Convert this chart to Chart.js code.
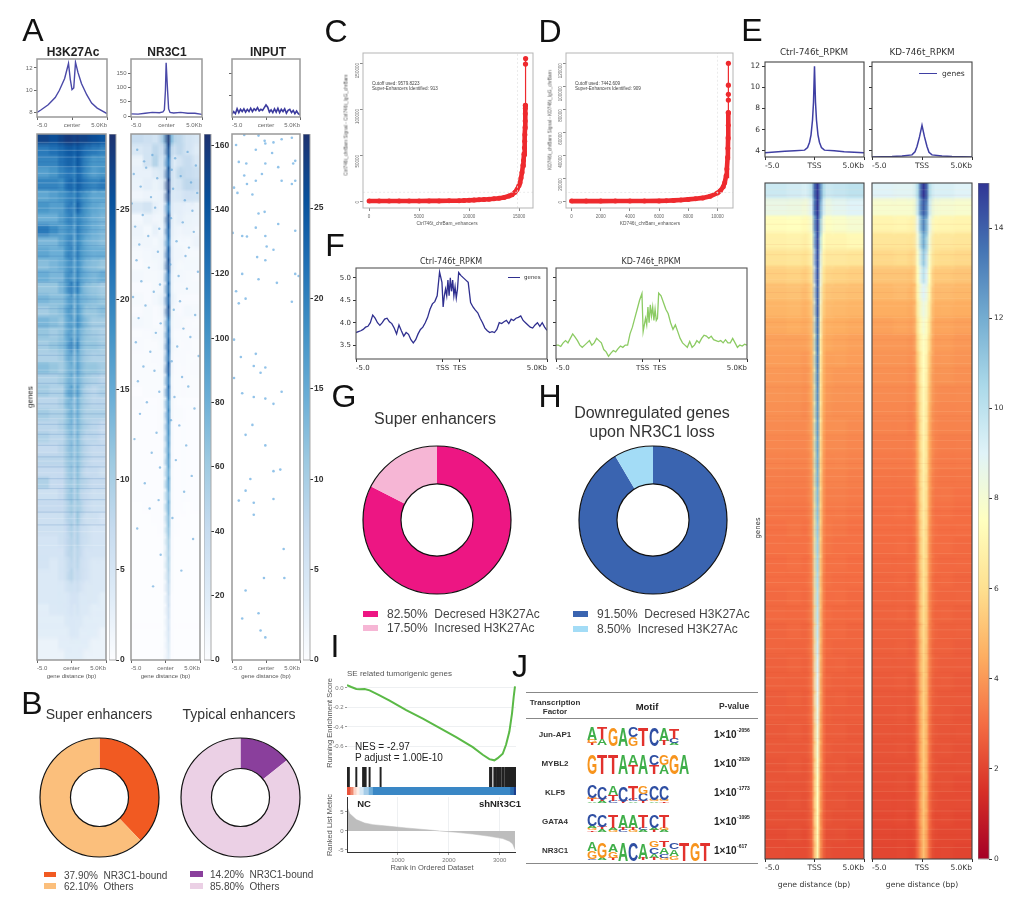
<!DOCTYPE html>
<html>
<head>
<meta charset="utf-8">
<title>NR3C1 super enhancers figure</title>
<script src="https://cdn.jsdelivr.net/npm/chart.js@4"></script>
<style>
html, body { margin: 0; padding: 0; background: #fff; }
#fig { position: relative; width: 1024px; height: 898px; overflow: hidden; filter: blur(0.4px); font-family: "Liberation Sans", Arial, sans-serif; }
#fig canvas { position: absolute; }
#fig span { position: absolute; white-space: pre; line-height: 1; }
#fig i { position: absolute; display: block; }
</style>
</head>
<body>
<div id="fig"></div>
<script>
// ---- data ----

// A: profiles above the heatmaps (kb from center)
const h3k27X = [-5,-4.4,-3.4,-2.4,-1.8,-1.05,-0.5,-0.25,0,0.25,0.5,0.85,1.35,2.1,2.8,3.6,5];
const h3k27Y = [8.0,8.25,8.7,9.35,10,11.05,12.4,11,10.05,10.2,12.5,11.6,10.6,9.6,8.85,8.4,7.9];
const nr3c1X = [-5,-4,-3,-2,-1,-0.5,-0.3,-0.15,-0.05,0.05,0.15,0.3,0.5,1,2,3,4,5];
const nr3c1Y = [8,7,10,13,12,15,22,90,186,186,90,25,13,11,13,10,10,6];
const inputX = [-5,-4.75,-4.5,-4.25,-4,-3.75,-3.5,-3.25,-3,-2.75,-2.5,-2.25,-2,-1.75,-1.5,-1.25,-1,-0.75,-0.5,-0.25,0,0.25,0.5,0.75,1,1.25,1.5,1.75,2,2.25,2.5,2.75,3,3.25,3.5,3.75,4,4.25,4.5,4.75,5];
const inputY = [0.25,0.5,0.3,0.75,0.4,0.7,0.5,0.75,0.45,0.7,0.5,0.8,0.5,0.75,0.6,0.85,0.55,0.7,0.6,0.85,1.1,0.9,0.45,0.65,0.4,0.75,0.45,0.8,0.4,0.7,0.5,0.75,0.35,0.6,0.7,0.4,0.6,0.3,0.55,0.3,0.2];

// heat column widths in kb, left to right
const heatAColumns = [1.5,1.3,0.9,0.6,0.45,0.5,0.45,0.6,0.9,1.3,1.5];
const heatEColumns = [2,1.5,0.7,0.4,0.2,0.4,0.2,0.4,0.7,1.5,2];

// A: H3K27Ac heat cells, top to bottom
const heatH3k27 = [
[26,25,26,27,27,26,27,26,26,25,24],[20,21,22,23,24,22,24,23,21,20,19],[19,19,21,22,23,20,24,22,19,17,17],[16,17,19,20,21,18,22,21,18,16,17],
[19,19,18,21,23,19,23,22,20,19,20],[15,16,17,18,20,17,21,19,17,15,15],[17,16,16,19,21,16,23,20,17,15,14],[14,14,16,18,20,15,19,18,16,14,13],
[20,18,16,17,19,14,20,18,16,14,13],[13,13,15,17,20,13,19,17,14,13,12],[15,14,14,18,20,14,20,17,15,14,14],[12,13,14,16,19,13,18,16,13,12,11],
[14,13,13,17,19,13,19,16,14,13,14],[11,11,13,16,21,14,20,15,12,11,10],[13,12,12,14,18,12,17,14,13,12,11],[10,11,12,15,18,11,17,14,11,11,12],
[13,12,11,14,17,12,18,15,12,10,10],[11,10,11,14,17,11,16,13,11,10,9],[10,11,12,14,20,12,19,13,11,11,10],[9,9,10,13,16,10,15,12,10,9,9],
[12,11,10,12,15,11,16,13,11,11,10],[9,9,10,12,15,10,14,12,10,9,8],[10,9,9,13,17,11,16,12,9,8,9],[8,8,9,12,14,9,14,11,9,8,8],
[10,9,9,11,15,10,14,11,9,9,9],[8,8,9,11,14,9,13,11,9,8,7],[9,8,8,10,13,9,13,10,8,8,7],[7,7,8,10,13,9,12,10,8,7,7],
[8,8,8,10,12,9,12,10,8,7,7],[7,7,7,9,12,8,12,9,7,7,6],[9,7,7,9,11,8,11,9,8,7,7],[6,6,7,9,12,8,11,8,7,6,6],
[7,7,7,8,11,8,10,9,7,6,6],[6,6,6,8,10,7,11,8,6,6,5],[6,6,6,7,10,7,9,7,6,5,5],[5,5,6,7,9,7,9,7,6,5,5],
[5,5,5,7,9,6,8,7,5,5,5],[5,4,5,6,8,6,8,6,5,4,4],[4,4,5,6,9,6,7,6,5,4,4],[4,4,4,5,6,5,6,5,4,4,4],
[4,4,4,4,5,5,5,4,4,4,3],[3,4,4,4,5,4,5,4,4,3,3],[3,3,3,4,4,4,4,4,3,3,3],[3,3,3,3,4,4,4,3,3,3,2],
[2,2,3,3,3,3,3,3,3,2,2],[2,2,2,3,3,3,3,3,2,2,2]];

// A: NR3C1 heat cells
const heatNr3c1 = [
[40,35,30,45,70,165,75,50,45,30,25],[25,30,45,35,40,150,45,35,45,30,20],[12,30,50,25,35,130,40,20,30,40,25],[14,14,20,22,30,150,35,25,45,40,35],
[12,16,12,16,25,160,35,25,30,45,40],[8,10,10,12,20,155,25,22,25,32,30],[25,30,14,10,16,120,22,16,16,14,12],[6,12,8,8,18,150,22,12,16,12,10],
[10,6,14,6,16,140,18,10,8,10,8],[8,8,6,10,14,125,16,8,6,6,10],[5,6,8,8,16,145,18,8,8,5,5],[3,5,6,8,18,150,18,8,5,6,6],
[6,5,5,6,14,130,14,6,6,5,3],[3,3,5,6,12,135,14,5,5,5,5],[5,3,6,10,16,140,16,8,3,3,3],[3,5,3,5,14,150,12,5,3,6,5],
[6,5,3,3,10,120,10,5,5,3,2],[2,3,5,5,10,130,10,3,3,2,3],[3,2,2,5,10,140,12,5,2,3,2],[2,2,3,3,8,130,8,3,3,2,2],
[2,2,2,3,10,145,10,3,2,2,3],[2,2,2,2,7,125,7,2,2,2,2],[1,2,2,2,8,130,8,2,2,2,2],[2,1,1,2,7,110,7,2,1,1,1],
[1,1,1,2,6,115,7,2,2,1,1],[1,1,1,2,6,110,6,1,1,1,1],[1,1,1,1,6,105,6,1,1,1,1],[1,1,1,1,5,100,5,1,1,1,1],
[1,1,1,1,5,100,5,1,1,1,1],[1,1,1,1,4,90,4,1,1,1,1],[1,1,1,1,4,95,4,1,1,1,1],[1,1,1,1,4,80,4,1,1,1,1],
[0,1,1,1,4,85,4,1,1,0,1],[0,0,1,1,3,75,3,1,0,0,0],[0,0,0,1,3,70,3,1,0,0,0],[0,0,0,0,3,60,3,0,0,0,0],
[0,0,0,0,3,55,3,0,0,0,0],[0,0,0,0,2,55,2,0,0,0,0],[0,0,0,0,2,50,2,0,0,0,0],[0,0,0,0,2,45,2,0,0,0,0],
[0,0,0,0,1,40,1,0,0,0,0],[0,0,0,0,1,35,1,0,0,0,0],[0,0,0,0,1,30,1,0,0,0,0],[0,0,0,0,1,28,1,0,0,0,0],
[0,0,0,0,1,25,1,0,0,0,0],[0,0,0,0,1,20,1,0,0,0,0]];

// A: fine row streaks, percent of the rows from the top
const streakLightA = [1.6,3.1,4.4,6.2,7.5,9.3,11,12.2,14.1,15.9,17.4,19,20.3,22.2,24.1,25.3,27.4,29,30.6,32.3,34.2,35.8,37.1,39.4,41,43.2,44.9,46.3,48.5,50.2,52.4,54.1,56.3,58,60.5,62.2,64.4,66.6,68.3,70.7,73.1,75.6,78.2];
const streakDarkA = [2.4,5.3,8.2,10.2,13,16.7,18.2,21.2,23.2,26.3,28.2,31.4,33.2,36.5,38.2,40.2,42.1,45.6,47.4,49.3,51.3,53.2,55.2,57.1,59.2,61.4,63.3,65.5,67.4,69.5,71.9,74.3];

// A: sparse dots, x in kb and y in percent of the rows from the top
const nr3c1DotX = [-4.1,3.2,-1.9,1.4,-3.1,4.4,-2.8,0.9,-4.6,2.2,-1.2,3.7,-3.6,1.1,4.6,-2.1,2.8,-4.9,-1.5,3.9,-3.3,0.8,2.5,-4.4,-0.9,4.1,-2.5,1.6,-3.8,3.4,-1.1,2.9,-4.2,0.7,-2.4,4.7,1.9,-3.5,-0.8,3.1,-1.7,-4.7,2.1,-2.9,1.2,4.3,-3.9,-0.7,2.6,-1.4,3.6,-4.3,1.7,-2.2,4.8,0.9,-3.2,-1.6,2.4,-4,3.3,-0.9,1.3,-2.7,4.2,-3.7,0.8,2,-1.3,-4.5,3,-2,1.5,-0.8,3.8,-3,2.7,-1,-2.3,1,-4.1,4,-0.7,2.3,-1.8];
const nr3c1DotY = [3,3.4,4,4.6,5.2,6,6.4,6.8,7.6,8,8.4,9.2,10,10.4,11.2,12,12.6,13.2,14,14.6,15.4,16,16.8,17.6,18,18.6,19.4,20.4,21,21.6,22.4,23.2,24,24.8,25.4,26.2,27,28,28.6,29.4,30,31,31.8,32.6,33.4,34.4,35,36,37,37.8,38.6,39.6,40.4,41.4,42.2,43.2,44.2,45,46.2,47,48,49,50,51,52.2,53.2,54.4,55.4,56.8,58,59.2,60.6,62,63.4,65,66.4,68,69.6,71.2,73,75,77,80,83,86];
const inputDotX = [-4.4,-3.2,-1.1,-0.2,-0.1,1.1,2.3,3.8,-4,-2.9,-1.5,0.9,4,4.3,-4.7,-4.2,-3.2,-2.8,-2,-1.5,-0.6,-0.1,1.8,2.3,3.8,4.3,-4.9,-3.5,-2.8,-1.5,-1.1,-0.2,-0.1,0.1,1.1,4.3,1.8,-0.1,-1.3,-3.5,-1.1,1.6,4.3,4.8,-4.4,-3,-4,3.8,-4.7,-1.5,-1.8,-3.7,-0.1,-0.8,-3.5,-1.8,-0.1,1.1,2.3,-4.7,-2,-3,-0.1,2.1,1.1,-2.3,-3,-4,-1.8,-1.8,1.1,-0.3,2.7,2.6,-3,-3.5,-0.8,-0.1,-1.1];
const inputDotY = [2.1,0.2,0.3,1.3,1.8,1.6,1,0.7,5.3,5.6,3,3.6,5.6,5.1,10.2,11.2,7.9,9.5,11.5,8.9,7.6,5.6,6.3,8.9,9.5,8.9,18.8,19.4,19.5,17.8,15.1,14.8,19.4,21.4,22,18.4,17.1,24,23.4,26.6,27.6,28.3,26.6,27,29.9,31.3,32.2,31.9,39.1,41.8,44.1,42.4,44.4,45.4,49.3,50,50.3,51.3,49,46.4,55.3,57.2,59.2,63.8,64.1,65.6,67.8,69.7,70.1,72.4,69.4,84.4,84.4,78.9,86.8,92.1,94.4,95.7,91.1];

const colorbarH3k27Ticks = [0,5,10,15,20,25];
const colorbarNr3c1Ticks = [0,20,40,60,80,100,120,140,160];
const colorbarInputTicks = [0,5,10,15,20,25];

// B, G, H: ring shares
const superNr3c1Shares = [37.9,62.1];
const typicalNr3c1Shares = [14.2,85.8];
const superH3k27Shares = [82.5,17.5];
const downH3k27Shares = [91.5,8.5];

// C, D: ranked enhancer curves, the dense part then the outliers at the top
const ctrlRankX = [0,1000,2000,3000,4000,5000,6000,7000,8000,9000,9500,10000,10500,11000,11500,12000,12500,13000,13500,14000,14300,14600,14800,15000,15100,15200,15300,15400,15450,15500,15540,15570,15590,15610,15620,15630,15635,15640];
const ctrlRankY = [0,0,0,50,50,80,100,150,220,300,500,800,1000,1300,1600,2000,2500,3000,3800,5500,6800,9500,12500,17000,20000,25000,31000,39000,44000,51000,58000,65000,72000,80000,87000,95000,101000,104000];
const ctrlTopX = [15640,15650,15660];
const ctrlTopY = [104000,149000,155000];
const kdRankX = [0,1000,2000,3000,4000,5000,6000,6500,7000,7500,8000,8500,9000,9500,10000,10200,10400,10500,10600,10650,10700,10720,10735,10745,10750];
const kdRankY = [0,0,0,50,80,120,200,300,600,1000,1500,2100,2800,4200,7000,9000,12500,16000,22000,28000,38000,46000,55000,66000,77000];
const kdTopX = [10750,10752,10753,10754,10755];
const kdTopY = [77000,88000,93000,101000,120000];

// E: profiles and heat cells
const tssX = [-5,-3,-2,-1,-0.7,-0.5,-0.35,-0.2,-0.1,0,0.1,0.2,0.35,0.5,0.7,1,2,3,5];
const ctrlTssY = [3.8,3.95,4.0,4.05,4.3,4.8,5.5,6.9,8.6,12,8.6,6.9,5.5,4.8,4.3,4.05,4.0,3.9,3.8];
const kdTssX = [-5,-3,-2,-1,-0.7,-0.5,-0.25,0,0.25,0.5,0.7,1,2,3,5];
const kdTssY = [3.4,3.45,3.5,3.6,3.9,4.4,5.3,6.4,5.3,4.4,3.85,3.6,3.5,3.45,3.4];

const heatCtrlE = [
[9.6,9.4,9.2,10,13,15,13.5,10.4,9.6,9.8,10],[8.5,8.4,8.2,9,12.5,15,12.5,9.4,8.5,8.8,9],[7.4,7.5,7.3,8,11.5,14.6,11.5,8.2,7.6,7.8,8],[6.8,6.9,6.7,7.4,10.5,14.5,10.5,7.5,7,7,7.2],
[6.2,6.3,6.1,6.8,9.5,14.3,9.5,6.9,6.4,6.4,6.3],[5.5,5.6,5.4,6.1,8.8,14.2,8.8,6.3,5.7,5.6,5.5],[5,5.1,4.9,5.6,8.4,14,8.4,5.7,5.2,5.1,5],[4.7,4.8,4.6,5.2,8,14,8,5.4,4.9,4.8,4.7],
[4.4,4.5,4.4,4.9,7.8,13.6,7.8,5,4.6,4.5,4.4],[4.2,4.2,4.2,4.7,7.5,13.4,7.5,4.8,4.4,4.3,4.2],[4.1,4.1,4,4.6,7.3,13.2,7.3,4.7,4.2,4.2,4.1],[4,4,3.9,4.5,7.1,13,7.1,4.6,4.1,4,4],
[3.9,3.9,3.8,4.4,7,12.8,7,4.5,4,3.9,3.9],[3.8,3.8,3.7,4.3,6.9,12.6,6.9,4.4,3.9,3.8,3.8],[3.7,3.7,3.7,4.2,6.8,12.4,6.8,4.3,3.8,3.8,3.7],[3.6,3.6,3.6,4.1,6.6,12.2,6.6,4.2,3.7,3.7,3.6],
[3.5,3.5,3.5,4,6.4,12,6.4,4.1,3.6,3.6,3.5],[3.4,3.4,3.4,3.9,6.3,11.8,6.3,4,3.5,3.5,3.4],[3.3,3.3,3.3,3.8,6.2,11.5,6.2,3.9,3.4,3.4,3.3],[3.2,3.2,3.2,3.7,6.1,11.3,6.1,3.8,3.3,3.3,3.2],
[3.1,3.2,3.1,3.7,6,11,6,3.7,3.3,3.2,3.1],[3.1,3.1,3.1,3.6,5.9,10.8,5.9,3.6,3.2,3.1,3.1],[3,3.1,3,3.5,5.8,10.6,5.8,3.6,3.1,3.1,3],[3,3,3,3.5,5.7,10.4,5.7,3.5,3.1,3,3],
[2.9,3,2.9,3.4,5.6,10.2,5.6,3.5,3,3,2.9],[2.9,2.9,2.9,3.4,5.5,10,5.5,3.4,3,2.9,2.9],[2.8,2.9,2.8,3.3,5.4,9.8,5.4,3.4,2.9,2.9,2.8],[2.8,2.8,2.8,3.3,5.3,9.5,5.3,3.3,2.9,2.8,2.8],
[2.7,2.8,2.7,3.2,5.2,9.2,5.2,3.3,2.8,2.8,2.7],[2.7,2.7,2.7,3.2,5.1,9,5.1,3.2,2.8,2.7,2.7],[2.6,2.7,2.6,3.1,5,8.8,5,3.2,2.7,2.7,2.6],[2.6,2.6,2.6,3.1,4.9,8.5,4.9,3.1,2.7,2.6,2.6],
[2.5,2.6,2.5,3,4.8,8.2,4.8,3.1,2.6,2.6,2.5],[2.5,2.5,2.5,3,4.7,8,4.7,3,2.6,2.5,2.5],[2.4,2.5,2.4,2.9,4.6,7.8,4.6,3,2.5,2.5,2.4],[2.4,2.4,2.4,2.9,4.5,7.6,4.5,2.9,2.5,2.4,2.4],
[2.3,2.4,2.3,2.9,4.5,7.5,4.5,2.9,2.4,2.4,2.3],[2.3,2.3,2.3,2.8,4.4,7.4,4.4,2.8,2.4,2.3,2.3],[2.2,2.3,2.2,2.8,4.3,7.2,4.3,2.8,2.3,2.3,2.2],[2.2,2.2,2.2,2.7,4.2,7,4.2,2.7,2.3,2.2,2.2]];

const heatKdE = [
[9,8.9,8.9,10.4,13.8,15,14,10.4,9.2,9.2,9],[7.9,7.9,7.9,9.8,13,14,13,9.6,8.1,8,7.9],[7,7.1,6.9,8.8,11.5,13,11.5,8.8,7.2,7.1,7],[6.3,6.3,6.2,8.2,10.5,12,10.5,8.2,6.4,6.4,6.3],
[5.8,5.9,5.7,7.8,9.5,11,9.5,7.8,6,5.9,5.8],[5.2,5.2,5.1,7.4,9,10,9,7.4,5.3,5.3,5.2],[4.8,4.9,4.7,7,8.4,9,8.4,7,4.9,4.9,4.8],[4.5,4.5,4.4,6.6,7.9,8.4,7.9,6.6,4.6,4.6,4.5],
[4.2,4.3,4.2,6.2,7.5,8,7.5,6.2,4.3,4.3,4.2],[4,4,3.9,5.8,7.2,7.6,7.2,5.8,4.1,4.1,4],[3.9,3.9,3.8,5.4,6.9,7.5,6.9,5.4,4,4,3.9],[3.8,3.8,3.7,5.2,6.8,7.4,6.8,5.2,3.9,3.9,3.8],
[3.7,3.7,3.6,5,6.6,7.2,6.6,5,3.8,3.7,3.7],[3.6,3.6,3.5,4.8,6.5,7.1,6.5,4.8,3.7,3.6,3.6],[3.5,3.5,3.4,4.6,6.4,7,6.4,4.6,3.6,3.5,3.5],[3.4,3.4,3.4,4.5,6.3,6.9,6.3,4.5,3.5,3.4,3.4],
[3.3,3.3,3.3,4.4,6.2,6.8,6.2,4.4,3.4,3.3,3.3],[3.2,3.2,3.2,4.3,6.1,6.7,6.1,4.3,3.3,3.2,3.2],[3.1,3.1,3.1,4.2,6,6.6,6,4.2,3.2,3.2,3.1],[3.05,3.1,3,4.1,5.9,6.5,5.9,4.1,3.1,3.1,3],
[3,3,3,4,5.8,6.4,5.8,4,3.1,3,3],[2.95,3,2.9,3.9,5.7,6.3,5.7,3.9,3,3,2.9],[2.9,2.9,2.9,3.9,5.6,6.2,5.6,3.9,3,2.9,2.9],[2.85,2.9,2.8,3.8,5.5,6.1,5.5,3.8,2.9,2.9,2.8],
[2.8,2.8,2.8,3.7,5.4,6,5.4,3.7,2.9,2.8,2.8],[2.75,2.8,2.7,3.7,5.3,5.9,5.3,3.7,2.8,2.8,2.7],[2.7,2.7,2.7,3.6,5.2,5.8,5.2,3.6,2.8,2.7,2.7],[2.65,2.7,2.6,3.5,5.1,5.7,5.1,3.5,2.7,2.7,2.6],
[2.6,2.6,2.6,3.5,5,5.6,5,3.5,2.7,2.6,2.6],[2.55,2.6,2.5,3.4,4.9,5.5,4.9,3.4,2.6,2.6,2.5],[2.5,2.5,2.5,3.3,4.8,5.5,4.8,3.3,2.6,2.5,2.5],[2.45,2.5,2.4,3.3,4.7,5.4,4.7,3.3,2.5,2.5,2.4],
[2.4,2.4,2.4,3.2,4.7,5.4,4.7,3.2,2.5,2.4,2.4],[2.35,2.4,2.3,3.2,4.6,5.3,4.6,3.2,2.4,2.4,2.3],[2.3,2.3,2.3,3.1,4.5,5.3,4.5,3.1,2.4,2.3,2.3],[2.25,2.3,2.2,3.1,4.5,5.2,4.5,3.1,2.3,2.3,2.2],
[2.2,2.2,2.2,3,4.4,5.2,4.4,3,2.3,2.2,2.2],[2.15,2.2,2.1,3,4.3,5.1,4.3,3,2.2,2.2,2.1],[2.1,2.1,2.1,2.9,4.2,5,4.2,2.9,2.2,2.1,2.1],[2.05,2.1,2,2.9,4.1,5,4.1,2.9,2.1,2.1,2]];

// E: fine row streaks, percent of the rows from the top
const streakLightE = [1,2.5,4.1,5.4,7.2,8.3,9.9,11.4,12.6,14.3,15.4,17.1,18.2,19.9,21.3,22.4,24.1,25.5,26.7,28.2,29.4,31.1,32.3,33.8,35.2,36.6,38.1,39.3,40.8,42.2,43.4,45.1,46.3,47.9,49.2,50.6,52.1,53.3,54.8,56.3,57.6,59.1,60.4,61.8,63.3,64.5,66.1,67.4,68.9,70.3,71.6,73.2,74.4,76,77.3,78.7,80.1,81.5,83,84.2,85.9,87.1,88.6,90,91.3,92.9,94.2,95.6,97.1,98.3];
const streakDarkE = [1.8,3.3,6.1,9.1,10.6,13.4,16.2,20.6,23.2,27.4,30.2,34.5,37.3,41.5,44.2,48.5,51.3,55.6,58.3,62.6,65.3,69.6,72.4,75.2,79.4,82.2,86.5,89.3,93.6,96.4];

const colorbarETicks = [0,2,4,6,8,10,12,14];

// F: TSS to TES profiles
const geneBodyX = [0,1,2,3,4,5,6,7,8,9,10,11,12,13,14,15,16,17,18,19,20,21,22,23,24,25,26,27,28,29,30,31,32,33,34,35,36,36.5,37,37.5,38,38.5,39,39.5,40,40.5,41,41.5,42,42.5,43,44,45,46,47,48,49,50,51,52,53,54,55,56,57,58,59,60,61,62,63,64,65,66,67,68,69,70,71,72,73,74,75,76,77,78,79,80];
const ctrlBodyY = [3.78,3.8,3.82,3.85,3.9,3.92,4.0,4.17,4.1,4.0,3.94,4.0,4.08,4.1,4.02,3.98,3.88,3.75,3.95,3.82,3.7,3.78,3.74,3.62,3.55,3.62,3.75,3.85,3.9,4.0,4.12,4.3,4.42,4.47,4.6,5.13,4.9,4.35,4.6,4.75,4.6,4.95,4.6,5.0,4.7,4.95,4.6,4.8,4.55,4.75,5.12,5.05,5.0,4.95,4.9,4.45,4.35,4.28,4.22,4.1,4.0,3.88,3.82,3.78,3.8,3.78,3.85,4.0,3.98,4.02,4.05,3.98,4.08,4.05,4.1,4.12,4.15,4.05,4.0,3.95,3.9,3.88,3.95,4.0,3.92,4.0,3.9,3.83];
const kdBodyY = [3.5,3.5,3.47,3.55,3.6,3.55,3.65,3.75,3.68,3.6,3.5,3.45,3.5,3.55,3.6,3.5,3.55,3.65,3.6,3.55,3.4,3.35,3.25,3.32,3.38,3.35,3.42,3.48,3.45,3.5,3.5,3.75,3.9,4.1,4.3,4.5,4.65,3.8,3.95,4.1,3.95,4.35,4.0,4.4,4.15,4.35,4.05,4.3,4.05,4.1,4.66,4.6,4.45,4.3,4.2,4.0,3.85,3.95,3.8,3.65,3.55,3.5,3.45,3.58,3.45,3.5,3.6,3.55,3.65,3.72,3.7,3.65,3.7,3.62,3.6,3.58,3.6,3.55,3.62,3.55,3.55,3.65,3.55,3.45,3.5,3.48,3.52,3.5];

// I: GSEA running score, hits and ranked metric
const esRankX = [0,85,183,248,346,444,640,837,1163,1490,1817,2144,2471,2667,2797,2895,2961,3059,3124,3190,3242,3275,3300];
const esScoreY = [0.03,0.01,-0.01,-0.014,-0.01,-0.024,-0.075,-0.13,-0.227,-0.315,-0.41,-0.505,-0.607,-0.685,-0.73,-0.742,-0.72,-0.675,-0.583,-0.447,-0.26,-0.09,0.017];
const hitRanks = [5,15,25,35,183,316,340,366,444,660,2810,2835,2895,2925,2955,2985,3010,3050,3080,3120,3140,3155,3170,3190,3205,3220,3240,3255,3270,3285,3300,3310];
const stripWidths = [60,60,60,60,80,100,80,2700,70,50];
const stripColors = ['#e8523a','#f08a70','#fbd5c8','#fdf0ea','#d6e8f5','#a5cce8','#6fadd9','#3a87c5','#2a6cb0','#1c3f8c'];
const metricX = [0,52,183,346,509,837,1163,1686,1817,2144,2471,2797,3059,3190,3255,3300];
const metricY = [6.5,4.6,3,2.1,1.67,1.23,0.8,0.18,0,-0.35,-0.8,-1.4,-2,-2.7,-3.4,-4.9];

// J: motif table
const motifFactors = ['Jun-AP1','MYBL2','KLF5','GATA4','NR3C1'];
const motifExponents = ['-2056','-2029','-1773','-1095','-617'];
const junLogo = [[['A',.65],['G',.2],['T',.1]],[['T',.6],['A',.35]],[['G',.95]],[['A',.95]],[['C',.5],['G',.45]],[['T',.95]],[['C',.95]],[['A',.7],['T',.25]],[['T',.55],['C',.25],['A',.1]]];
const mybLogo = [[['G',1]],[['T',1]],[['T',1]],[['A',1]],[['A',.55],['T',.45]],[['A',1]],[['C',.55],['T',.45]],[['G',.55],['A',.45]],[['G',1]],[['A',1]]];
const klfLogo = [[['C',.68],['G',.12],['T',.1],['A',.08]],[['C',.7],['T',.12],['A',.1]],[['A',.45],['T',.35],['C',.1]],[['C',.78],['T',.1]],[['T',.75],['C',.1],['A',.08]],[['G',.4],['C',.38],['T',.1]],[['C',.75],['G',.1],['A',.08]],[['C',.75],['G',.1],['T',.08]]];
const gataLogo = [[['C',.62],['A',.14],['G',.14],['T',.08]],[['C',.62],['T',.14],['A',.14]],[['T',.66],['A',.14],['G',.12]],[['A',.66],['T',.14],['C',.12]],[['A',.66],['T',.14],['G',.12]],[['T',.66],['C',.14],['A',.12]],[['C',.66],['A',.14],['T',.12]],[['T',.66],['G',.14],['A',.12]]];
const nrLogo = [[['A',.45],['G',.4],['C',.08]],[['G',.78],['A',.15]],[['A',.4],['G',.35],['T',.12]],[['A',.95]],[['C',.95]],[['A',.8],['T',.12]],[['G',.3],['C',.33],['A',.22],['T',.1]],[['T',.3],['A',.35],['C',.2],['G',.1]],[['C',.35],['A',.35],['G',.2]],[['T',.95]],[['G',.95]],[['T',.95]]];

// ---- helpers ----
const fig = document.getElementById('fig');
const SANS = '"Liberation Sans", Arial, sans-serif';
const DEJA = '"DejaVu Sans", sans-serif';
const BLUES = ['#fcfdff','#deebf7','#c6dbef','#9ecae1','#6baed6','#4292c6','#2171b5','#08519c','#1d3270'];
const RDYLBU = ['#a50026','#d73027','#f46d43','#fdae61','#fee090','#ffffbf','#e0f3f8','#abd9e9','#74add1','#4575b4','#313695'];
const LETTER_COLORS = { A: '#3fae49', T: '#e2322d', G: '#f7941d', C: '#2f4fa3' };
const LETTER_ADV = { A: .722, T: .611, G: .778, C: .722 };

Chart.defaults.animation = false;
Chart.defaults.responsive = false;
Chart.defaults.maintainAspectRatio = false;
Chart.defaults.font.family = SANS;
Chart.defaults.plugins.legend.display = false;
Chart.defaults.plugins.tooltip.enabled = false;

function txt(s, x, y, o = {}) {
    const el = document.createElement('span');
    el.textContent = s;
    const a = o.anchor || 'c';
    const tx = a === 'c' ? '-50%' : a === 'r' ? '-100%' : '0';
    el.style.cssText = `left:${x}px;top:${y}px;font:${o.weight || 'normal'} ${o.size || 10}px ${o.font || SANS};color:${o.color || '#333'};transform:translate(${tx},-50%)${o.rot ? ` rotate(${o.rot}deg)` : ''};`;
    fig.appendChild(el);
    return el;
}

function swatch(x, y, w, h, color) {
    const el = document.createElement('i');
    el.style.cssText = `left:${x}px;top:${y}px;width:${w}px;height:${h}px;background:${color};`;
    fig.appendChild(el);
}

// canvas with room round the plot box, m = margins
function makeCanvas(box, m) {
    const c = document.createElement('canvas');
    const w = box[2] - box[0] + m.l + m.r, h = box[3] - box[1] + m.t + m.b;
    c.width = w; c.height = h;
    c.style.cssText = `left:${box[0] - m.l}px;top:${box[1] - m.t}px;width:${w}px;height:${h}px;`;
    fig.appendChild(c);
    return c;
}

function frame(color, width) {
    return {
        id: 'frame',
        afterDraw(ch) {
            if (!width) return;
            const a = ch.chartArea, g = ch.ctx;
            g.save();
            g.strokeStyle = color; g.lineWidth = width;
            g.strokeRect(a.left, a.top, a.right - a.left, a.bottom - a.top);
            g.restore();
        }
    };
}

// size sets the room for the axis, the padding is zeroed so the plot box stays exact
function axis(range, ticks, labels, o, size) {
    return {
        type: 'linear', min: range[0], max: range[1],
        afterBuildTicks: s => { s.ticks = ticks.map(v => ({ value: v })); },
        ticks: {
            autoSkip: false, maxRotation: 0, padding: o.pad === undefined ? 1.5 : o.pad, align: o.align || 'center',
            font: { size: o.size, family: o.font || SANS, weight: o.weight || 'normal' }, color: o.color || '#333',
            callback: v => labels ? labels[ticks.indexOf(v)] : String(v)
        },
        grid: { drawOnChartArea: !!o.grid, color: o.grid || 'transparent', tickLength: o.tick === undefined ? 3 : o.tick, tickColor: o.tickColor || '#555' },
        border: { display: false },
        afterFit: s => {
            size(s);
            s.paddingTop = s.paddingBottom = s.paddingLeft = s.paddingRight = 0;
        }
    };
}

// generic xy panel: every option is a style, the data comes in as arrays
function xyPanel(box, m, series, xr, xt, xl, yr, yt, yl, o) {
    const scales = {
        x: xt ? axis(xr, xt, xl, o.x, s => { s.height = m.b; }) : { type: 'linear', min: xr[0], max: xr[1], display: false },
        y: yt ? axis(yr, yt, yl, o.y, s => { s.width = m.l; }) : { type: 'linear', min: yr[0], max: yr[1], display: false, reverse: !!o.yReverse }
    };
    if (o.y && o.y.rotate) { scales.y.ticks.minRotation = 90; scales.y.ticks.maxRotation = 90; }
    return new Chart(makeCanvas(box, m), {
        type: 'scatter',
        data: { datasets: series },
        options: {
            layout: { autoPadding: false, padding: { top: m.t, right: m.r, left: yt ? 0 : m.l, bottom: xt ? 0 : m.b } },
            scales
        },
        plugins: [frame(o.frame || '#999', o.frameWidth === undefined ? 1.5 : o.frameWidth)]
    });
}

const zip = (xs, ys) => xs.map((x, i) => ({ x, y: ys[i] }));
const lineSeries = (xs, ys, color, width) => ({ data: zip(xs, ys), showLine: true, borderColor: color, borderWidth: width, pointRadius: 0, tension: 0 });
const dotSeries = (xs, ys, color, rad) => ({ data: zip(xs, ys), showLine: false, pointRadius: rad, pointBackgroundColor: color, pointBorderWidth: 0 });
// thin full width lines across a heatmap at the given row positions
const streakSeries = (rows, color, width) => ({
    data: rows.flatMap(r => [{ x: -5, y: r }, { x: 5, y: r }, { x: null, y: null }]),
    showLine: true, spanGaps: false, borderColor: color, borderWidth: width, pointRadius: 0
});

function ramp(stops, t) {
    t = Math.min(1, Math.max(0, t)) * (stops.length - 1);
    const i = Math.min(stops.length - 2, Math.floor(t)), f = t - i;
    const rgb = h => [1, 3, 5].map(k => parseInt(h.substr(k, 2), 16));
    const a = rgb(stops[i]), b = rgb(stops[i + 1]);
    return `rgb(${a.map((v, k) => Math.round(v + (b[k] - v) * f)).join(',')})`;
}

// heat cells are stacked horizontal bars, the low pixel ratio smooths them when scaled up
function heatCells(box, rows, columns, stops, max) {
    new Chart(makeCanvas(box, { l: 0, r: 0, t: 0, b: 0 }), {
        type: 'bar',
        data: {
            labels: rows.map((r, i) => i),
            datasets: columns.map((w, c) => ({
                data: rows.map(() => w),
                backgroundColor: rows.map(r => ramp(stops, r[c] / max)),
                borderWidth: 0, barPercentage: 1, categoryPercentage: 1, stack: 'a', inflateAmount: 1.5
            }))
        },
        options: {
            indexAxis: 'y', devicePixelRatio: 0.34,
            layout: { autoPadding: false, padding: 0 },
            scales: { x: { stacked: true, min: 0, max: 10, display: false }, y: { stacked: true, display: false } }
        }
    });
}

function colorbar(box, m, max, ticks, stops, o) {
    new Chart(makeCanvas(box, m), {
        type: 'bar',
        data: {
            labels: [''],
            datasets: [{
                data: [max], borderWidth: 0, barPercentage: 1, categoryPercentage: 1,
                backgroundColor: ctx => {
                    const a = ctx.chart.chartArea;
                    if (!a) return stops[0];
                    const g = ctx.chart.ctx.createLinearGradient(0, a.bottom, 0, a.top);
                    stops.forEach((s, i) => g.addColorStop(i / (stops.length - 1), s));
                    return g;
                }
            }]
        },
        options: {
            layout: { autoPadding: false, padding: { top: m.t, bottom: m.b, left: m.l } },
            scales: {
                x: { display: false },
                y: Object.assign(axis([0, max], ticks, null, o, s => { s.width = m.r; }), { position: 'right' })
            }
        },
        plugins: [frame(o.frame, o.frameWidth)]
    });
}

function ring(cx, cy, R, r, values, colors) {
    const box = [cx - R - 2, cy - R - 2, cx + R + 2, cy + R + 2];
    new Chart(makeCanvas(box, { l: 0, r: 0, t: 0, b: 0 }), {
        type: 'doughnut',
        data: { datasets: [{ data: values, backgroundColor: colors, borderWidth: 0 }] },
        options: { radius: R, cutout: r, layout: { padding: 0 } },
        plugins: [{
            id: 'ringEdge',
            afterDraw(ch) {
                const el = ch.getDatasetMeta(0).data[0], g = ch.ctx;
                g.save();
                g.strokeStyle = '#111'; g.lineWidth = 1.2;
                [el.outerRadius, el.innerRadius].forEach(rad => { g.beginPath(); g.arc(el.x, el.y, rad, 0, Math.PI * 2); g.stroke(); });
                g.restore();
            }
        }]
    });
}

function legendRow(sx, y, sw, sh, color, tx, label, size) {
    swatch(sx, y - sh / 2, sw, sh, color);
    txt(label, tx, y, { anchor: 'l', size, color: '#444' });
}

// ---- panel letters ----
[['A', 33, 30], ['B', 32, 703], ['C', 336, 31], ['D', 550, 31], ['E', 752, 30], ['F', 335, 245], ['G', 344, 396], ['H', 550, 396], ['I', 335, 646], ['J', 520, 666]]
    .forEach(l => txt(l[0], l[1], l[2], { size: 32, color: '#111' }));

// ---- A ----
const aX = { size: 6, color: '#666', tickColor: '#666', align: 'inner' };
const aColumnsX = [[37, 106], [131, 200], [232, 300]];
const aMargins = { l: 18, r: 3, t: 2, b: 14 };
const centerTicks = [-5, 0, 5], centerLabels = ['-5.0', 'center', '5.0Kb'];
['H3K27Ac', 'NR3C1', 'INPUT'].forEach((t, i) => txt(t, [73, 167, 268][i], 52, { size: 12, weight: 'bold', color: '#222' }));

xyPanel([37, 59, 107, 117], aMargins, [lineSeries(h3k27X, h3k27Y, '#4a49a8', 1.4)], [-5, 5], centerTicks, centerLabels, [7.6, 12.8], [8, 10, 12], null, { x: aX, y: aX });
xyPanel([131, 59, 202, 117], aMargins, [lineSeries(nr3c1X, nr3c1Y, '#4a49a8', 1.4)], [-5, 5], centerTicks, centerLabels, [-3, 199], [0, 50, 100, 150], null, { x: aX, y: aX });
xyPanel([232, 59, 300, 117], aMargins, [lineSeries(inputX, inputY, '#3b3a9e', 1.6)], [-5, 5], centerTicks, centerLabels, [0, 5.3], [2, 4], ['', ''], { x: aX, y: aX });

heatCells([37, 134, 106, 660], heatH3k27, heatAColumns, BLUES, 28);
heatCells([131, 134, 200, 660], heatNr3c1, heatAColumns, BLUES, 165);
const heatFrameA = { x: aX, y: null, yReverse: true };
const aFrameM = { l: 4, r: 4, t: 2, b: 14 };
xyPanel([37, 134, 106, 660], aFrameM, [streakSeries(streakLightA, 'rgba(255,255,255,.18)', 1.2), streakSeries(streakDarkA, 'rgba(25,95,170,.15)', 1.2)], [-5, 5], centerTicks, centerLabels, [0, 100], null, null, heatFrameA);
xyPanel([131, 134, 200, 660], aFrameM, [dotSeries(nr3c1DotX, nr3c1DotY, 'rgba(88,160,215,.6)', 1.2)], [-5, 5], centerTicks, centerLabels, [0, 100], null, null, heatFrameA);
xyPanel([232, 134, 300, 660], aFrameM, [dotSeries(inputDotX, inputDotY, 'rgba(110,175,225,.75)', 1.3)], [-5, 5], centerTicks, centerLabels, [0, 100], null, null, heatFrameA);
aColumnsX.forEach(c => txt('gene distance (bp)', (c[0] + c[1]) / 2, 676, { size: 6, color: '#555' }));
txt('genes', 30, 397, { size: 8, rot: -90, color: '#222' });

const cbA = { size: 8.5, color: '#333', weight: 'bold', tickColor: '#333', frame: '#aaa', frameWidth: 1, tick: 3, pad: 1 };
const cbM = { l: 0, r: 24, t: 0, b: 2 };
colorbar([109, 134, 116, 660], cbM, 29.2, colorbarH3k27Ticks, BLUES, cbA);
colorbar([204, 134, 211, 660], cbM, 163.5, colorbarNr3c1Ticks, BLUES, cbA);
colorbar([303, 134, 310, 660], cbM, 29.1, colorbarInputTicks, BLUES, cbA);

// ---- B ----
txt('Super enhancers', 99, 714, { size: 14, color: '#333' });
txt('Typical enhancers', 239, 714, { size: 14, color: '#333' });
ring(99.5, 797.5, 59.5, 30, superNr3c1Shares, ['#f15a22', '#fbbf7c']);
ring(240.5, 797.5, 59.5, 30, typicalNr3c1Shares, ['#8a3f9c', '#ebd0e5']);
legendRow(44, 874.5, 12, 5.5, '#f15a22', 64, superNr3c1Shares[0].toFixed(2) + '%  NR3C1-bound', 10);
legendRow(44, 886, 12, 5.5, '#fbbf7c', 64, superNr3c1Shares[1].toFixed(2) + '%  Others', 10);
legendRow(190, 874, 13, 5.5, '#8a3f9c', 210, typicalNr3c1Shares[0].toFixed(2) + '%  NR3C1-bound', 10);
legendRow(190, 886, 13, 5.5, '#ebd0e5', 210, typicalNr3c1Shares[1].toFixed(2) + '%  Others', 10);

// ---- C, D ----
const rankTick = { size: 4.5, color: '#666', tickColor: '#888', pad: 3 };
const rankY = { ...rankTick, rotate: true, pad: 2 };
const rankM = { l: 22, r: 3, t: 3, b: 18 };
const RED = '#ee2a2e';
const rankDense = (xs, ys) => ({ data: zip(xs, ys), showLine: true, borderColor: RED, borderWidth: 4.6, pointRadius: 2.5, pointBackgroundColor: RED, pointBorderWidth: 0, tension: 0 });
const rankTop = (xs, ys) => ({ data: zip(xs, ys), showLine: true, borderColor: RED, borderWidth: 1.2, pointRadius: 2.6, pointBackgroundColor: RED, pointBorderWidth: 0, tension: 0 });
const faintLine = (xs, ys) => ({ data: zip(xs, ys), showLine: true, borderColor: '#e2e2e2', borderWidth: 0.7, borderDash: [2, 2], pointRadius: 0 });
xyPanel([363, 53, 533, 208], rankM, [faintLine([14850, 14850], [-7500, 170000]), faintLine([-600, 16500], [9580, 9580]), rankTop(ctrlTopX, ctrlTopY), rankDense(ctrlRankX, ctrlRankY)],
    [-610, 16400], [0, 5000, 10000, 15000], null, [-7600, 161000], [0, 50000, 100000, 150000], null, { x: rankTick, y: rankY, frame: '#b5b5b5', frameWidth: 1 });
xyPanel([566, 53, 733, 208], rankM, [faintLine([10000, 10000], [-7500, 130000]), faintLine([-500, 11500], [7442, 7442]), rankTop(kdTopX, kdTopY), rankDense(kdRankX, kdRankY)],
    [-380, 11070], [0, 2000, 4000, 6000, 8000, 10000], null, [-6000, 129000], [0, 20000, 40000, 60000, 80000, 100000, 120000], null, { x: rankTick, y: rankY, frame: '#b5b5b5', frameWidth: 1 });
txt('Cutoff used: 9579.8223', 372, 83, { size: 4.6, anchor: 'l', color: '#444' });
txt('Super-Enhancers Identified: 913', 372, 88, { size: 4.6, anchor: 'l', color: '#444' });
txt('Cutoff used: 7442.609', 575, 83, { size: 4.6, anchor: 'l', color: '#444' });
txt('Super-Enhancers Identified: 909', 575, 88, { size: 4.6, anchor: 'l', color: '#444' });
txt('Ctrl746t_chrBam_enhancers', 447, 223, { size: 4.8, color: '#555' });
txt('KD746t_chrBam_enhancers', 650, 223, { size: 4.8, color: '#555' });
txt('Ctrl746t_chrBam Signal - Ctrl746t_IgG_chrBam', 346, 125, { size: 4.8, rot: -90, color: '#555' });
txt('KD746t_chrBam Signal - KD746t_IgG_chrBam', 550, 120, { size: 4.8, rot: -90, color: '#555' });

// ---- F ----
const fTick = { size: 7, font: DEJA, color: '#333', tickColor: '#333', pad: 2, align: 'inner' };
const bodyTicks = [0, 36.3, 43.4, 80], bodyLabels = ['-5.0', 'TSS', 'TES', '5.0Kb'];
const fM = { l: 24, r: 3, t: 1, b: 16 };
const fStyle = { x: fTick, y: fTick, frame: '#555', frameWidth: 1.1 };
xyPanel([356, 268, 547, 359], fM, [lineSeries(geneBodyX, ctrlBodyY, '#2f2f8f', 1.3)], [0, 80], bodyTicks, bodyLabels, [3.19, 5.22], [3.5, 4, 4.5, 5], ['3.5', '4.0', '4.5', '5.0'], fStyle);
xyPanel([556, 268, 747, 359], fM, [lineSeries(geneBodyX, kdBodyY, '#8ccb63', 1.3)], [0, 80], bodyTicks, bodyLabels, [3.19, 5.22], [3.5, 4, 4.5, 5], ['', '', '', ''], fStyle);
txt('Ctrl-746t_RPKM', 451, 261, { size: 8, font: DEJA });
txt('KD-746t_RPKM', 651, 261, { size: 8, font: DEJA });
swatch(508, 276.5, 12, 1.3, '#2f2f8f');
txt('genes', 524, 277, { size: 5.5, font: DEJA, anchor: 'l' });

// ---- E ----
const eTick = { size: 7.5, font: DEJA, color: '#333', tickColor: '#333', pad: 2, align: 'inner' };
const eM = { l: 24, r: 3, t: 1, b: 18 };
const eStyle = { x: eTick, y: eTick, frame: '#444', frameWidth: 1.1 };
const tssTicks = [-5, 0, 5], tssLabels = ['-5.0', 'TSS', '5.0Kb'];
xyPanel([765, 62, 864, 157], eM, [lineSeries(tssX, ctrlTssY, '#3f3fa3', 1.5)], [-5, 5], tssTicks, tssLabels, [3.4, 12.4], [4, 6, 8, 10, 12], null, eStyle);
xyPanel([872, 62, 972, 157], { ...eM, l: 5 }, [lineSeries(kdTssX, kdTssY, '#3f3fa3', 1.5)], [-5, 5], tssTicks, tssLabels, [3.4, 12.4], [4, 6, 8, 10, 12], ['', '', '', '', ''], { ...eStyle, y: { ...eTick, pad: 0 } });
txt('Ctrl-746t_RPKM', 814, 52, { size: 8.8, font: DEJA });
txt('KD-746t_RPKM', 922, 52, { size: 8.8, font: DEJA });
swatch(919, 72.5, 18, 1.3, '#3f3fa3');
txt('genes', 942, 73, { size: 7.5, font: DEJA, anchor: 'l' });

heatCells([765, 183, 864, 859], heatCtrlE, heatEColumns, RDYLBU, 15);
heatCells([872, 183, 972, 859], heatKdE, heatEColumns, RDYLBU, 15);
const eFrameM = { l: 4, r: 8, t: 2, b: 18 };
const eHeatFrame = { x: eTick, y: null, yReverse: true, frame: '#444', frameWidth: 1.1 };
const eStreaks = [streakSeries(streakLightE, 'rgba(255,235,190,.13)', 1), streakSeries(streakDarkE, 'rgba(200,50,30,.06)', 1)];
xyPanel([765, 183, 864, 859], eFrameM, eStreaks, [-5, 5], tssTicks, tssLabels, [0, 100], null, null, eHeatFrame);
xyPanel([872, 183, 972, 859], eFrameM, eStreaks, [-5, 5], tssTicks, tssLabels, [0, 100], null, null, eHeatFrame);
txt('gene distance (bp)', 814, 884, { size: 7.7, font: DEJA });
txt('gene distance (bp)', 922, 884, { size: 7.7, font: DEJA });
txt('genes', 758, 528, { size: 7, font: DEJA, rot: -90 });
colorbar([978, 183, 989, 859], { l: 0, r: 30, t: 0, b: 2 }, 15, colorbarETicks, RDYLBU, { size: 7.5, font: DEJA, color: '#333', tickColor: '#333', frame: '#888', frameWidth: 0.8, tick: 3, pad: 2 });

// ---- G, H ----
txt('Super enhancers', 435, 419, { size: 16, color: '#333' });
txt('Downregulated genes', 652, 413, { size: 16, color: '#333' });
txt('upon NR3C1 loss', 652, 432, { size: 16, color: '#333' });
ring(436.5, 520, 74, 37, superH3k27Shares, ['#ed1683', '#f6b6d5']);
ring(652.5, 520, 74, 37, downH3k27Shares, ['#3a64b0', '#a3dcf6']);
legendRow(363, 614, 15, 6, '#ed1683', 387, superH3k27Shares[0].toFixed(2) + '%  Decresed H3K27Ac', 12);
legendRow(363, 628, 15, 6, '#f6b6d5', 387, superH3k27Shares[1].toFixed(2) + '%  Incresed H3K27Ac', 12);
legendRow(573, 614, 15, 6, '#3a64b0', 597, downH3k27Shares[0].toFixed(2) + '%  Decresed H3K27Ac', 12);
legendRow(573, 629, 15, 6, '#a3dcf6', 597, downH3k27Shares[1].toFixed(2) + '%  Incresed H3K27Ac', 12);

// ---- I ----
const rankRange = [0, 3320];
const gridTicks = [1000, 2000, 3000];
const iTick = { size: 6, color: '#777', tick: 2, tickColor: '#999', grid: '#eef0f2' };
txt('SE related tumorigenic genes', 347, 673, { size: 8, anchor: 'l', color: '#555' });
xyPanel([347, 682, 516, 765], { l: 14, r: 2, t: 1, b: 1 }, [lineSeries(esRankX, esScoreY, '#5ab946', 2)], rankRange, null, null, [-0.79, 0.0615], [0, -0.2, -0.4, -0.6], ['0.0', '-0.2', '-0.4', '-0.6'], { y: iTick, frameWidth: 0 });
txt('NES = -2.97', 355, 746, { size: 10, anchor: 'l', color: '#222' });
txt('P adjust = 1.00E-10', 355, 757, { size: 10, anchor: 'l', color: '#222' });

new Chart(makeCanvas([347, 767, 516, 787], { l: 0, r: 0, t: 0, b: 0 }), {
    type: 'bar',
    data: { datasets: [{ data: hitRanks.map(r => ({ x: r, y: 1 })), backgroundColor: '#222', barThickness: 1.3 }] },
    options: { layout: { autoPadding: false, padding: 0 }, scales: { x: { type: 'linear', offset: false, min: rankRange[0], max: rankRange[1], display: false }, y: { min: 0, max: 1, display: false } } }
});
new Chart(makeCanvas([347, 787, 516, 795], { l: 0, r: 0, t: 0, b: 0 }), {
    type: 'bar',
    data: { labels: [''], datasets: stripWidths.map((w, i) => ({ data: [w], backgroundColor: stripColors[i], borderWidth: 0, barPercentage: 1, categoryPercentage: 1 })) },
    options: { indexAxis: 'y', layout: { autoPadding: false, padding: 0 }, scales: { x: { stacked: true, min: 0, max: 3320, display: false }, y: { stacked: true, display: false } } }
});
txt('NC', 364, 803, { size: 9.5, weight: 'bold', color: '#222' });
txt('shNR3C1', 500, 803, { size: 9.5, weight: 'bold', color: '#222' });

const metricArea = { ...lineSeries(metricX, metricY, '#bdbdbd', 0.5), fill: 'origin', backgroundColor: '#bdbdbd' };
xyPanel([347, 797, 516, 853], { l: 14, r: 2, t: 1, b: 9 }, [metricArea], rankRange, gridTicks, ['1000', '2000', '3000'], [-5.8, 8.95], [-5, 0, 5], null,
    { x: iTick, y: { ...iTick, grid: undefined }, frameWidth: 0 });
const metricBorder = document.createElement('i');
metricBorder.style.cssText = 'left:347px;top:797px;width:169px;height:56px;box-sizing:border-box;border-left:1px solid #333;border-bottom:1px solid #333;';
fig.appendChild(metricBorder);
txt('Rank in Ordered Dataset', 432, 867, { size: 7.5, color: '#555' });
txt('Running Enrichment Score', 329, 723, { size: 7.5, rot: -90, color: '#555' });
txt('Ranked List Metric', 329, 825, { size: 7.5, rot: -90, color: '#555' });

// ---- J ----
[[692, 1.4], [718, 1.2], [863, 1.4]].forEach(r => swatch(526, r[0], 232, r[1], '#888'));
txt('Transcription', 555, 702, { size: 8, weight: 'bold', color: '#333' });
txt('Factor', 555, 711, { size: 8, weight: 'bold', color: '#333' });
txt('Motif', 647, 706, { size: 9.5, weight: 'bold', color: '#222' });
txt('P-value', 734, 706, { size: 8.5, weight: 'bold', color: '#333' });
const rowY = [734, 763, 792, 821, 850];
const logoBase = [745, 773, 803, 832, 860];
[junLogo, mybLogo, klfLogo, gataLogo, nrLogo].forEach((logo, i) => {
    txt(motifFactors[i], 555, rowY[i], { size: 8, weight: 'bold', color: '#333' });
    txt('1×10', 714, rowY[i], { size: 10, anchor: 'l', color: '#222', weight: 'bold' });
    txt(motifExponents[i], 737, rowY[i] - 4, { size: 5, anchor: 'l', color: '#222', weight: 'bold' });
    logo.forEach((col, c) => {
        let y = logoBase[i];
        [...col].reverse().forEach(([ch, share]) => {
            const F = 20, h = share * 20, sx = 10.2 / (LETTER_ADV[ch] * F), sy = h / (0.729 * F);
            const el = document.createElement('span');
            el.textContent = ch;
            el.style.cssText = `left:${587 + c * 10.25}px;top:${y - 0.8465 * F}px;font:bold ${F}px ${SANS};color:${LETTER_COLORS[ch]};transform-origin:0 ${0.8465 * F}px;transform:scale(${sx},${sy});`;
            fig.appendChild(el);
            y -= h;
        });
    });
});
</script>
</body>
</html>
